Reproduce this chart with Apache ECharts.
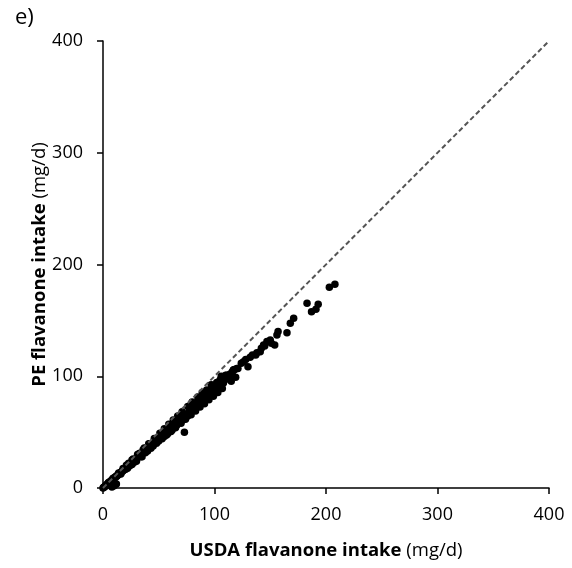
<!DOCTYPE html>
<html><head><meta charset="utf-8">
<script src="https://cdn.jsdelivr.net/npm/echarts@6/dist/echarts.min.js"></script>
<style>html,body{margin:0;padding:0;background:#fff}#c{width:572px;height:568px}</style>
</head><body><div id="c"></div>
<script>
const panelLabel = "e)";
const xTitleBold = "USDA flavanone intake";
const yTitleBold = "PE flavanone intake";
const unitText = "(mg/d)";
const axisTicks = [0, 100, 200, 300, 400];
const identityLine = [[0, 0], [400, 400]];

const usdaIntake = [
  0,0.5,1,1.5,2,2.5,3,3.5,4,4.5,5,5.5,6,6.5,7,7.5,8,8,9,9.5,10,10,10.5,11,11.5,12,12,12.5,13,13.5,14,14.5,15,15.5,16,16.5,17,17.5,18,18.5,19,19.5,20,20.5,21,21.5,22,22.5,23,23.5,24,24.5,25,25.5,26,26.5,27,27.5,28,28.5,29,29.5,30,
  5,9,14,18,23,27,32,36,16,22,26,30,35,
  31,32,33,34,35,36,37,38,39,40,41,42,43,44,45,46,47,48,49,50,51,52,53,54,55,56,57,58,59,60,61,62,63,64,65,66,67,68,69,70,71,72,73,74,75,76,77,78,79,80,
  33,38,42,47,52,56,60,64,68,40,45,50,55,58,62,66,72,76,73,
  81,82,83,84,85,86,87,88,89,90,91,92,93,94,95,96,97,98,99,100,101,102,103,104,105,106,107,108,109,110,111,112,113,114,116,117,118,120,
  84,88,92,96,100,104,108,112,86,94,102,110,90,93,99,105,111,117,121,
  20,24,28,34,38,43,48,53,57,61,65,70,74,79,83,87,91,95,99,103,107,115,119,
  21,26,31,37,41,46,51,55,59,63,67,71,76,80,85,89,97,106,
  124,130,126,128,132,134,137,138,141,142,144,145,147,150,151,154,156,157,165,168,171,
  183,187,191,193,203,208
];
const peIntake = [
  0,0.4,0.9,1.2,1.8,2.1,2.7,3,3.5,4,4.4,4.7,5.4,5.6,6.2,6.4,7.1,1,7.8,8.4,8.8,2,9.1,9.6,10.2,10.3,3.5,11,11.4,11.6,12.4,12.6,13.2,13.4,14.1,14.3,15,15.1,15.9,16.2,16.5,17.2,17.5,17.8,18.6,18.8,19.2,19.9,20.1,20.6,21.2,21.3,22,22.5,22.6,23.4,23.6,24,24.7,24.8,25.5,26,26.2,
  4.9,8.8,13.5,17.4,22.2,26,30.5,34.3,12.5,17.6,21,24,28,
  27.5,28,29,29.5,31,31.5,32.5,33,34.5,35,36,37,37.5,39,39.5,40,41.5,42,43,44,45,45.5,46.5,47.5,48.5,49,50,51,52,52.5,54,54.5,55,56.5,57,58,59,59.5,61,61.5,62.5,63,64,65,66,66.5,67.5,68.5,69.5,70,
  31,35.5,39.5,44,48.5,52,56,59.5,63,33,37.5,42,46,48.5,52,56,61,64.5,49.8,
  72,73,74.5,75,76,77,78,78.5,80,81,81.5,82.5,83.5,84,85,86,86.5,87.5,89,89.5,90,91,92,93.5,94,95,96,96.5,97.5,98,99.5,100.5,101,102,104,105.5,106,107,
  72,76,80,83.5,87,90,94,97.5,79.5,86.5,94.5,101,82,87.6,92,96.6,101,105.6,107,
  16.5,20,23,28,31.5,35.5,40,44,47.5,50.5,54,58,61.5,65.5,69,72.5,75.5,79,82,85.5,89,95.5,99,
  20.3,25,30,35.7,39.5,44.3,49,53,57,60.8,64.5,68.3,73,77,81.5,85.5,92.5,100,
  111.6,108.5,113,115,117,119,119,121,122,125,128,127,131,132.4,129.5,128,137,140,139,147.4,151.9,
  165.3,157.8,159.9,164.4,179.6,182.3
];

const points = usdaIntake.map((x, i) => [x, peIntake[i]]);

const chart = echarts.init(document.getElementById('c'));
const FONT = '"Open Sans", "Liberation Sans", sans-serif';
const axisCommon = {
  min: 0, max: 400, interval: 100,
  axisLine: { show: true, onZero: false, lineStyle: { color: '#000', width: 1.5 } },
  axisTick: { show: true, inside: false, length: 6, lineStyle: { color: '#000', width: 1.5 } },
  splitLine: { show: false },
  axisLabel: { color: '#000', fontSize: 18, fontFamily: FONT, formatter: v => axisTicks.includes(v) ? String(v) : '' },
  nameLocation: 'middle',
  nameMoveOverlap: false,
  nameTextStyle: {
    color: '#000', fontSize: 18.5, fontFamily: FONT,
    rich: {
      b: { fontWeight: 'bold', fontSize: 18.5, fontFamily: FONT, color: '#000' },
      n: { fontWeight: 'normal', fontSize: 18.5, fontFamily: FONT, color: '#000' }
    }
  }
};
chart.setOption({
  animation: false,
  backgroundColor: '#fff',
  grid: { left: 103, right: 23, top: 41, bottom: 80, containLabel: false },
  graphic: [{ type: 'text', left: 15, top: 7, style: { text: panelLabel, fontSize: 22, fontFamily: FONT, fill: '#000' } }],
  xAxis: Object.assign({}, axisCommon, {
    type: 'value',
    name: '{b|' + xTitleBold + '} {n|' + unitText + '}',
    nameGap: 53,
    axisLabel: Object.assign({}, axisCommon.axisLabel, { margin: 18 })
  }),
  yAxis: Object.assign({}, axisCommon, {
    type: 'value',
    name: '{b|' + yTitleBold + '} {n|' + unitText + '}',
    nameGap: 54,
    axisLabel: Object.assign({}, axisCommon.axisLabel, { margin: 20 })
  }),
  series: [
    {
      type: 'scatter', data: points, symbolSize: 7.5,
      itemStyle: { color: '#000', opacity: 1 }, z: 2
    },
    {
      type: 'line', data: identityLine, symbol: 'none', silent: true,
      lineStyle: { color: '#555', width: 2, type: [5, 3] }, z: 3
    }
  ]
});
</script></body></html>
